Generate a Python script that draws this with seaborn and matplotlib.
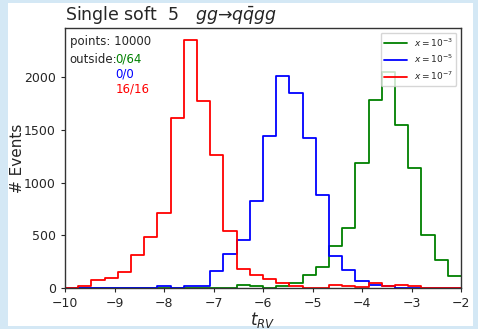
import numpy as np
import pandas as pd
import matplotlib
matplotlib.use("Agg")
import matplotlib.pyplot as plt
import seaborn as sns
from matplotlib.patches import Rectangle

bin_edges = np.linspace(-10, -2, 31)
centers = (bin_edges[:-1] + bin_edges[1:]) / 2

counts_x3 = [0, 0, 0, 0, 0, 0, 0, 0, 0, 0, 0, 0, 0, 32, 16, 0, 22, 47, 120, 200,
             402, 573, 1187, 1788, 2048, 1545, 1136, 500, 266, 111]
counts_x5 = [0, 0, 0, 0, 0, 0, 0, 16, 0, 16, 16, 160, 325, 460, 825, 1440, 2010, 1850, 1425, 885,
             300, 170, 68, 25, 16, 0, 0, 0, 0, 0]
counts_x7 = [0, 16, 73, 95, 149, 316, 487, 715, 1614, 2352, 1779, 1260, 544, 180, 120, 85, 47, 16, 0, 3,
             28, 16, 13, 47, 16, 32, 16, 0, 0, 0]
labels = [r"$x=10^{-3}$", r"$x=10^{-5}$", r"$x=10^{-7}$"]
colors = ["green", "blue", "red"]
outside = ["0/64", "0/0", "16/16"]

sns.set_style("ticks")
plt.rcParams['font.family'] = ['DejaVu Sans']

fig = plt.figure(figsize=(4.78, 3.29), dpi=100)
fig.patch.set_facecolor("#d4e8f5")
fig.patches.append(Rectangle((8/478, 3/329), 465/478, 323/329, transform=fig.transFigure,
                             facecolor="white", edgecolor="none", zorder=-10))
ax = fig.add_axes([65/478, 1 - 288/329, 396/478, 260/329])
ax.set_facecolor("white")

for cnt, lab, col in zip([counts_x3, counts_x5, counts_x7], labels, colors):
    df = pd.DataFrame({"t": centers, "w": np.asarray(cnt, dtype=float)})
    sns.histplot(data=df, x="t", weights="w", bins=30, binrange=(-10, -2), element="step",
                 fill=False, color=col, label=lab, ax=ax, linewidth=1.3)

ax.set_xlim(-10, -2)
ax.set_ylim(0, 2470)
ax.set_yticks([0, 500, 1000, 1500, 2000])
ax.set_xticks(range(-10, -1))
ax.tick_params(labelsize=9, length=3)
ax.set_xlabel(r"$t_{RV}$", fontsize=12)
ax.xaxis.set_label_coords(0.5, -0.083)
ax.set_ylabel("# Events", fontsize=11)
ax.yaxis.set_label_coords(-0.10, 0.5)
for s in ax.spines.values():
    s.set_color("#333333")
    s.set_linewidth(1.0)

leg = ax.legend(loc="upper right", fontsize=6.5, framealpha=0.8, borderpad=0.4, handlelength=2.5)

ax.text(0.012, 0.975, "points: 10000", transform=ax.transAxes, fontsize=8.5, va="top", ha="left")
ax.text(0.012, 0.905, "outside:", transform=ax.transAxes, fontsize=8.5, va="top", ha="left")
for i, (o, c) in enumerate(zip(outside, colors)):
    ax.text(0.128, 0.905 - i * 0.058, o, transform=ax.transAxes, fontsize=8.5, va="top",
            ha="left", color=c)

fig.text(65/478, 1 - 15/329, r"Single soft  5   $gg$→$q\bar{q}gg$", fontsize=12.5, va="center", ha="left")

fig.savefig("out.png", dpi=100, facecolor=fig.get_facecolor())
